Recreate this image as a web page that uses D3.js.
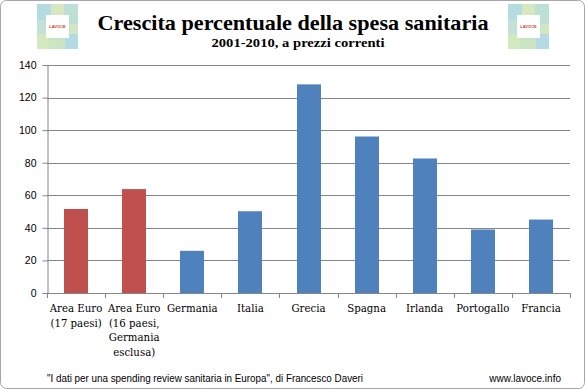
<!DOCTYPE html>
<html>
<head>
<meta charset="utf-8">
<script src="https://cdn.jsdelivr.net/npm/d3@7"></script>
<style>
  body { margin: 0; background: #fff; }
  svg { display: block; }
</style>
</head>
<body>
<div id="main"></div>
<script>
// data
const categories = [
    ["Area Euro", "(17 paesi)"],
    ["Area Euro", "(16 paesi,", "Germania", "esclusa)"],
    ["Germania"], ["Italia"], ["Grecia"], ["Spagna"], ["Irlanda"], ["Portogallo"], ["Francia"]
];
const values = [51.6, 63.8, 25.9, 50.2, 128.1, 96.1, 82.6, 39.0, 45.1];
const barColors = ["#C0504D", "#C0504D", "#4F81BD", "#4F81BD", "#4F81BD", "#4F81BD", "#4F81BD", "#4F81BD", "#4F81BD"];
const yTicks = [0, 20, 40, 60, 80, 100, 120, 140];

const W = 585, H = 389;
const margin = { top: 65, right: 15, bottom: 96, left: 47 };

const svg = d3.select("#main")
    .append("svg")
    .attr("width", W)
    .attr("height", H);

// outer frame
svg.append("rect")
    .attr("x", 0.5).attr("y", 0.5)
    .attr("width", W - 1).attr("height", H - 1)
    .attr("rx", 6)
    .attr("fill", "#fff")
    .attr("stroke", "#a6a6a6");

// logos (left and right)
function logo(x0) {
    let g = svg.append("g").attr("transform", `translate(${x0},4)`);
    g.append("rect").attr("width", 41).attr("height", 45).attr("fill", "#c6e3c8");
    const patches = [[0, 0, 14, 16, "#b4dbe0"], [14, 0, 14, 12, "#d6e8bf"], [27, 0, 14, 20, "#bde0d6"],
        [0, 30, 12, 15, "#d3e8bd"], [28, 30, 13, 15, "#b4dbe3"], [12, 36, 16, 9, "#cce5c3"],
        [0, 16, 8, 14, "#c1e1da"], [33, 20, 8, 10, "#d0e7c2"]];
    patches.forEach(p => g.append("rect").attr("x", p[0]).attr("y", p[1]).attr("width", p[2]).attr("height", p[3]).attr("fill", p[4]));
    g.append("rect").attr("x", 9).attr("y", 11).attr("width", 23).attr("height", 23).attr("fill", "#fff");
    g.append("text").attr("x", 20.5).attr("y", 24)
        .attr("text-anchor", "middle")
        .style("font-family", "Liberation Sans, Arial, sans-serif")
        .style("font-size", "4px")
        .style("font-weight", "bold")
        .style("fill", "#d04030")
        .text("LAVOCE");
}
logo(37);
logo(508);

// titles
svg.append("text")
    .attr("x", 293).attr("y", 30)
    .attr("text-anchor", "middle")
    .attr("textLength", 391)
    .attr("lengthAdjust", "spacingAndGlyphs")
    .style("font-family", "Liberation Serif, serif")
    .style("font-weight", "bold")
    .style("font-size", "21px")
    .text("Crescita percentuale della spesa sanitaria");

svg.append("text")
    .attr("x", 298).attr("y", 47)
    .attr("text-anchor", "middle")
    .attr("textLength", 173)
    .attr("lengthAdjust", "spacingAndGlyphs")
    .style("font-family", "Liberation Serif, serif")
    .style("font-weight", "bold")
    .style("font-size", "13.5px")
    .text("2001-2010, a prezzi correnti");

// scales
const x = d3.scaleBand()
    .domain(d3.range(categories.length))
    .range([margin.left, W - margin.right])
    .paddingInner(0.59)
    .paddingOuter(0.295);

const xOuter = d3.scaleBand()
    .domain(d3.range(categories.length))
    .range([margin.left, W - margin.right]);

const y = d3.scaleLinear()
    .domain([0, 140])
    .range([H - margin.bottom, margin.top]);

// gridlines
svg.append("g")
    .selectAll("line")
    .data(yTicks.filter(d => d > 0))
    .join("line")
    .attr("x1", margin.left).attr("x2", W - margin.right)
    .attr("y1", d => Math.round(y(d)) + 0.5).attr("y2", d => Math.round(y(d)) + 0.5)
    .attr("stroke", "#868686");

// bars
svg.append("g")
    .selectAll("rect")
    .data(values)
    .join("rect")
    .attr("x", (d, i) => Math.round(x(i)))
    .attr("y", d => y(d))
    .attr("width", Math.round(x.bandwidth()))
    .attr("height", d => y(0) - y(d))
    .attr("fill", (d, i) => barColors[i]);

// y axis
const yAxis = svg.append("g")
    .attr("transform", `translate(${margin.left + 0.5},0)`)
    .call(d3.axisLeft(y).tickValues(yTicks).tickSize(5).tickSizeOuter(0).tickPadding(6));
yAxis.select(".domain").attr("stroke", "#868686");
yAxis.selectAll(".tick line").attr("stroke", "#868686");
yAxis.selectAll(".tick text")
    .style("font-family", "Liberation Sans, Arial, sans-serif")
    .style("font-size", "10.5px")
    .style("fill", "#000");

// x axis line and ticks at band boundaries
const xAxisG = svg.append("g");
xAxisG.append("line")
    .attr("x1", margin.left).attr("x2", W - margin.right)
    .attr("y1", Math.round(y(0)) + 0.5).attr("y2", Math.round(y(0)) + 0.5)
    .attr("stroke", "#868686");
xAxisG.selectAll(".xtick")
    .data(d3.range(categories.length + 1))
    .join("line")
    .attr("class", "xtick")
    .attr("x1", i => Math.round(i < categories.length ? xOuter(i) : W - margin.right) + 0.5)
    .attr("x2", i => Math.round(i < categories.length ? xOuter(i) : W - margin.right) + 0.5)
    .attr("y1", Math.round(y(0)))
    .attr("y2", Math.round(y(0)) + 5)
    .attr("stroke", "#868686");

// x labels
const labels = svg.append("g")
    .selectAll("text")
    .data(categories)
    .join("text")
    .attr("text-anchor", "middle")
    .attr("x", (d, i) => xOuter(i) + xOuter.bandwidth() / 2)
    .attr("y", 312)
    .style("font-family", "DejaVu Serif, serif")
    .style("font-size", "10.2px");
labels.selectAll("tspan")
    .data(d => d)
    .join("tspan")
    .attr("x", function () { return d3.select(this.parentNode).attr("x"); })
    .attr("dy", (d, i) => i === 0 ? 0 : 14.5)
    .text(d => d);

// footer
svg.append("text")
    .attr("x", 47).attr("y", 382)
    .attr("textLength", 316)
    .attr("lengthAdjust", "spacingAndGlyphs")
    .style("font-family", "Liberation Sans, Arial, sans-serif")
    .style("font-size", "10px")
    .text("\"I dati per una spending review sanitaria in Europa\", di Francesco Daveri");

svg.append("text")
    .attr("x", 561).attr("y", 382)
    .attr("text-anchor", "end")
    .style("font-family", "Liberation Sans, Arial, sans-serif")
    .style("font-size", "10px")
    .text("www.lavoce.info");
</script>
</body>
</html>
